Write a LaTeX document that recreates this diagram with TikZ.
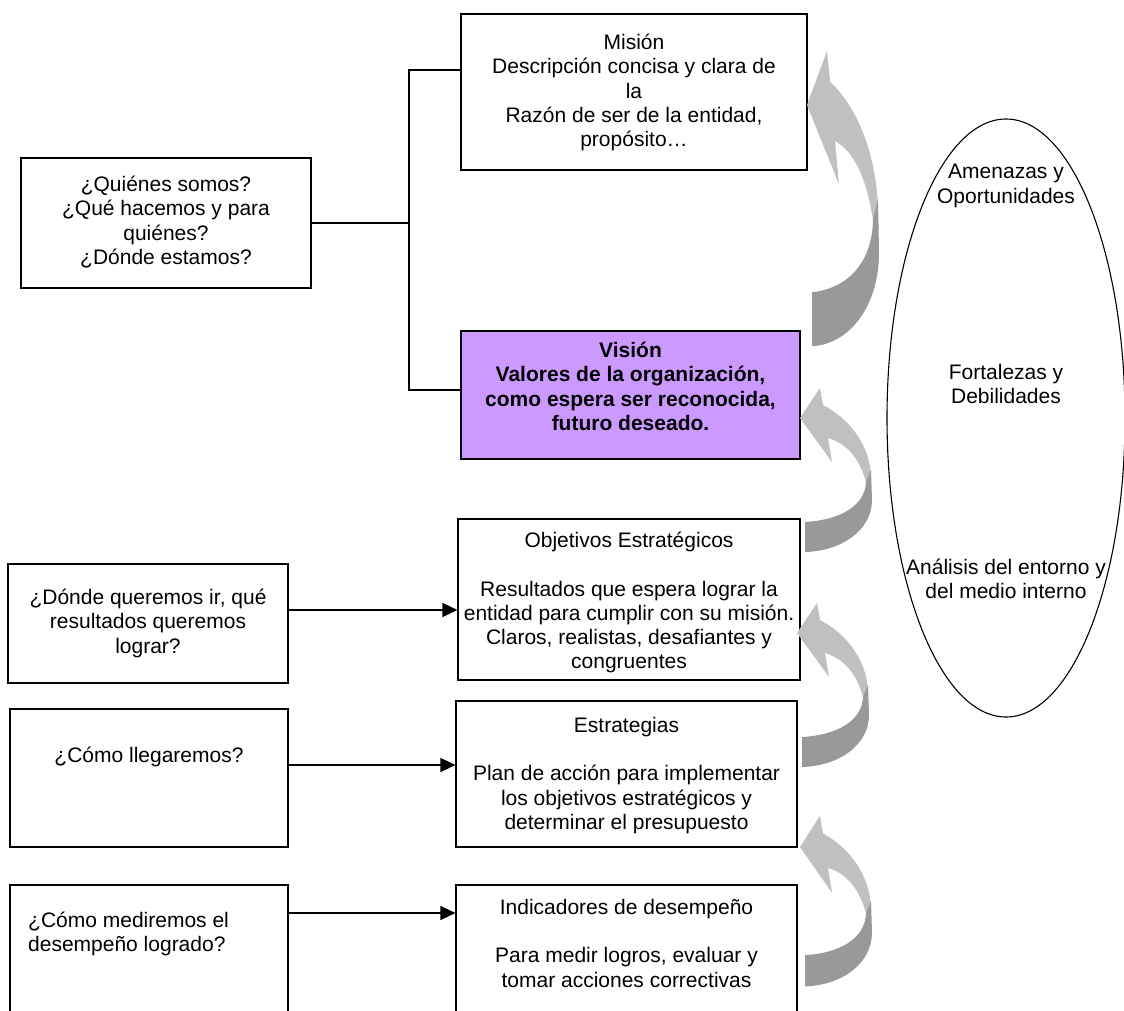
\documentclass[tikz,border=0pt]{standalone}
\usepackage{fontspec}
\setmainfont{Liberation Sans}
\usetikzlibrary{arrows.meta,shapes.geometric}
\definecolor{visionfill}{HTML}{CC99FF}
\definecolor{arrlightc}{HTML}{C0C0C0}
\definecolor{arrdarkc}{HTML}{999999}
\tikzset{
 boxst/.style={draw=black, line width=1.1pt, rectangle, inner sep=0pt},
 txtst/.style={inner sep=0pt, align=center, font=\fontsize{21}{24.2}\selectfont},
 harrow/.style={draw=black, line width=1.1pt, -{Triangle[length=15pt,width=14pt]}},
 conn/.style={draw=black, line width=1.1pt},
 arrlight/.style={fill=arrlightc},
 arrdark/.style={fill=arrdarkc},
}
\newcommand{\bentarrow}[3]{%
 \begin{scope}[shift={(#1,#2)},yscale=#3]
  \fill[arrlight] (0,0) -- (20,-30) -- (23,-13) .. controls (48,0) and (69,25) .. (71,57) -- (66,64) .. controls (60,42) and (48,26) .. (28,20) -- (32,44) -- cycle;
  \fill[arrdark] (71,52) -- (72,82) .. controls (72,112) and (42,133) .. (5,134) -- (5,104) .. controls (40,102) and (65,88) .. (66,64) -- cycle;
 \end{scope}}
\begin{document}
\begin{tikzpicture}[x=1pt,y=-1pt]
\useasboundingbox (0,0) rectangle (1124,1011);
\fill[white] (0,0) rectangle (1124,1011);

% boxes
\node[boxst, minimum width=346pt, minimum height=156pt] (mision) at (634,92) {};
\node[boxst, minimum width=290pt, minimum height=130pt] (quienes) at (166,223) {};
\node[boxst, fill=visionfill, minimum width=339pt, minimum height=128pt] (vision) at (630.5,395) {};
\node[boxst, minimum width=342pt, minimum height=161pt] (objetivos) at (629,599.5) {};
\node[boxst, minimum width=341pt, minimum height=146pt] (estrategias) at (626.5,774) {};
\node[boxst, minimum width=341pt, minimum height=131pt] (indicadores) at (626.5,950.5) {};
\node[boxst, minimum width=280pt, minimum height=119pt] (donde) at (148,623.5) {};
\node[boxst, minimum width=278pt, minimum height=138pt] (como) at (149,778) {};
\node[boxst, minimum width=278pt, minimum height=131pt] (mediremos) at (149,950.5) {};
\node[ellipse, draw=black, line width=1.1pt, inner sep=0pt, minimum width=238pt, minimum height=598pt] (entorno) at (1006,418) {};

% texts
\node[txtst, anchor=north] (misiont) at (634,34) {Misión\\Descripción concisa y clara de\\la\\Razón de ser de la entidad,\\propósito…};
\node[txtst] (quienest) at (166,222) {¿Quiénes somos?\\¿Qué hacemos y para\\quiénes?\\¿Dónde estamos?};
\node[txtst, anchor=north, font=\fontsize{21}{24.2}\selectfont\bfseries] (visiont) at (630.5,342) {Visión\\Valores de la organización,\\como espera ser reconocida,\\futuro deseado.};
\node[txtst, anchor=north] (objetivost) at (629,532) {Objetivos Estratégicos\\[24.2pt]Resultados que espera lograr la\\entidad para cumplir con su misión.\\Claros, realistas, desafiantes y\\congruentes};
\node[txtst, anchor=north] (estrategiast) at (626.5,717) {Estrategias\\[24.2pt]Plan de acción para implementar\\los objetivos estratégicos y\\determinar el presupuesto};
\node[txtst, anchor=north] (indicadorest) at (626.5,899) {Indicadores de desempeño\\[24.2pt]Para medir logros, evaluar y\\tomar acciones correctivas};
\node[txtst, anchor=north] (dondet) at (148,589) {¿Dónde queremos ir, qué\\resultados queremos\\lograr?};
\node[txtst] (comot) at (149,757) {¿Cómo llegaremos?};
\node[txtst, anchor=north west, align=left] (mediremost) at (28,912) {¿Cómo mediremos el\\desempeño logrado?};
\node[txtst] (amenazas) at (1006,186) {Amenazas y\\Oportunidades};
\node[txtst] (fortalezas) at (1006,384) {Fortalezas y\\Debilidades};
\node[txtst] (analisis) at (1006,579) {Análisis del entorno y\\del medio interno};

% bracket
\coordinate (bt) at (409,70);
\coordinate (bb) at (409,390);
\draw[conn] (mision.west |- bt) -- (bt) -- (bb) -- (vision.west |- bb);
\draw[conn] (quienes.east) -- (quienes.east -| bt);

% horizontal arrows
\coordinate (h1) at (0,610);
\coordinate (h2) at (0,765);
\coordinate (h3) at (0,913);
\draw[harrow] (donde.east |- h1) -- (objetivos.west |- h1);
\draw[harrow] (como.east |- h2) -- (estrategias.west |- h2);
\draw[harrow] (mediremos.east |- h3) -- (indicadores.west |- h3);

% curved arrows
\bentarrow{807}{105}{1.8}
\bentarrow{800}{418}{1}
\bentarrow{797}{633}{1}
\bentarrow{800}{847}{1.04}
\end{tikzpicture}
\end{document}
